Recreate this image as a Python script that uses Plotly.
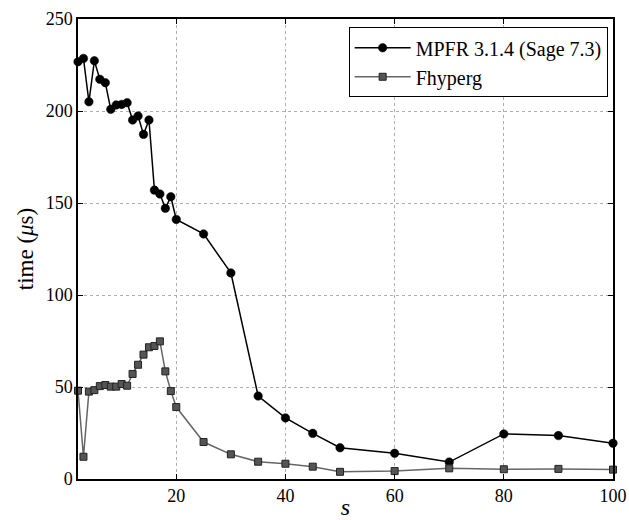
import plotly.graph_objects as go

s_vals = [2, 3, 4, 5, 6, 7, 8, 9, 10, 11, 12, 13, 14, 15, 16, 17, 18, 19, 20,
          25, 30, 35, 40, 45, 50, 60, 70, 80, 90, 100]
mpfr_us = [226.8, 228.6, 205.0, 227.3, 217.2, 215.4, 200.9, 203.3, 203.6, 204.5,
           195.1, 197.3, 187.3, 195.1, 157.0, 154.9, 147.1, 153.4, 141.1,
           133.2, 112.0, 45.1, 33.2, 24.8, 17.0, 14.0, 9.2, 24.5, 23.6, 19.4]
fhyperg_us = [48.0, 12.1, 47.5, 48.3, 50.5, 51.1, 50.2, 50.2, 51.6, 50.7,
              57.1, 62.1, 67.6, 71.6, 72.3, 74.8, 58.5, 47.8, 39.1,
              20.1, 13.4, 9.4, 8.3, 6.7, 3.9, 4.3, 5.8, 5.3, 5.5, 5.1]
x_ticks = [20, 40, 60, 80, 100]
y_ticks = [0, 50, 100, 150, 200, 250]

FONT = "Liberation Serif"

fig = go.Figure()
fig.add_trace(go.Scatter(
    x=s_vals, y=mpfr_us, mode="lines+markers", name="MPFR 3.1.4 (Sage 7.3)",
    line=dict(color="black", width=1.5),
    marker=dict(symbol="circle", size=8.5, color="black", line=dict(color="black", width=0.5)),
    cliponaxis=False,
))
fig.add_trace(go.Scatter(
    x=s_vals, y=fhyperg_us, mode="lines+markers", name="Fhyperg",
    line=dict(color="#666666", width=1.5),
    marker=dict(symbol="square", size=7, color="#555555", line=dict(color="#222222", width=1)),
    cliponaxis=False,
))

axis_common = dict(
    showline=True, linecolor="black", linewidth=1.5, mirror="allticks",
    ticks="inside", ticklen=5, tickwidth=1, tickcolor="black",
    showgrid=True, gridcolor="#b0b0b0", griddash="dot", gridwidth=1,
    zeroline=False, automargin=False,
    tickfont=dict(family=FONT, size=18, color="black"),
)

fig.update_xaxes(range=[2, 100], tickvals=x_ticks,
                 title=dict(text="<i>s</i>", font=dict(family=FONT, size=24, color="black"), standoff=0),
                 **axis_common)
fig.update_yaxes(range=[0, 250], tickvals=y_ticks,
                 title=dict(text="time (<i>μ</i>s)", font=dict(family=FONT, size=23, color="black"), standoff=6),
                 **axis_common)

fig.update_layout(
    width=629, height=520,
    margin=dict(l=78, r=16, t=19, b=41),
    plot_bgcolor="white", paper_bgcolor="white",
    font=dict(family=FONT, color="black"),
    legend=dict(x=0.99, y=0.982, xanchor="right", yanchor="top",
                bgcolor="white", bordercolor="black", borderwidth=1,
                font=dict(family=FONT, size=20, color="black"),
                itemwidth=56),
    showlegend=True,
)

fig.write_html("out.html")
